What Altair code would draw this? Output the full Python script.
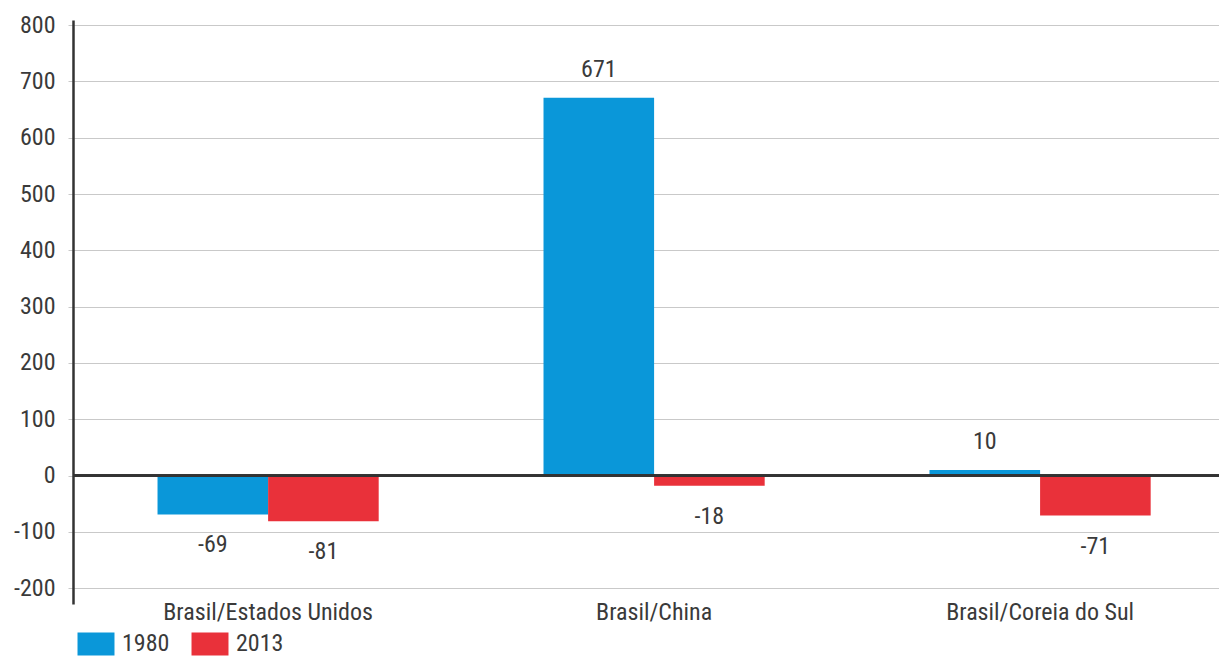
import altair as alt
import pandas as pd

# Trade balance change by partner pair, 1980 vs 2013
pairs = ["Brasil/Estados Unidos", "Brasil/China", "Brasil/Coreia do Sul"]
years = ["1980", "2013"]
values_1980 = [-69, 671, 10]
values_2013 = [-81, -18, -71]
y_ticks = [-200, -100, 0, 100, 200, 300, 400, 500, 600, 700, 800]
year_colors = ["#0a97d9", "#e9313a"]

rows = []
for par, v80, v13 in zip(pairs, values_1980, values_2013):
    rows.append({"par": par, "ano": years[0], "valor": v80, "rotulo": str(v80)})
    rows.append({"par": par, "ano": years[1], "valor": v13, "rotulo": str(v13)})
df = pd.DataFrame(rows)

FONT = "Roboto Condensed, DejaVu Sans Condensed, sans-serif"
FS = 24
TEXT = "#3a3a3a"
GRID = "#c9c9c9"

x = alt.X(
    "par:N", sort=pairs, title=None,
    scale=alt.Scale(paddingInner=0.427, paddingOuter=0.198, align=0.553),
    axis=alt.Axis(labelAngle=0, domain=False, ticks=False, labelPadding=-4,
                  labelLimit=0, labelFontSize=FS, labelColor=TEXT, labelFont=FONT),
)
xo = alt.XOffset("ano:N", sort=years, scale=alt.Scale(paddingInner=0, paddingOuter=0))
y = alt.Y(
    "valor:Q", title=None,
    scale=alt.Scale(domain=[-228, 809], nice=False, zero=False),
    axis=alt.Axis(values=y_ticks, grid=True, gridColor=GRID, gridWidth=1,
                  domainColor="#333333", domainWidth=2.5, tickColor=GRID, tickSize=5,
                  labelExpr="'' + datum.value",
                  labelPadding=13, labelFontSize=FS, labelColor=TEXT, labelFont=FONT),
)

base = alt.Chart(df)

bars = base.mark_bar().encode(
    x=x, xOffset=xo, y=y,
    color=alt.Color(
        "ano:N", sort=years,
        scale=alt.Scale(domain=years, range=year_colors),
        legend=alt.Legend(
            title=None, orient="none", direction="horizontal",
            legendX=11, legendY=612,
            symbolType="M-1.6,-1L1.6,-1L1.6,1L-1.6,1Z", symbolSize=534,
            symbolStrokeWidth=0, symbolOpacity=1,
            labelFontSize=FS, labelFont=FONT, labelColor=TEXT,
            labelOffset=14, columnPadding=21,
        ),
    ),
)

zero_line = alt.Chart(df).mark_rule(color="#333333", strokeWidth=2).encode(y=alt.datum(0))

labels_pos = base.transform_filter(alt.datum.valor >= 0).mark_text(
    baseline="bottom", dy=-16, fontSize=FS, font=FONT, color=TEXT
).encode(x=x, xOffset=xo, y=y, text="rotulo:N")

labels_neg = base.transform_filter(alt.datum.valor < 0).mark_text(
    baseline="top", dy=19, fontSize=FS, font=FONT, color=TEXT
).encode(x=x, xOffset=xo, y=y, text="rotulo:N")

chart = (
    alt.layer(bars, zero_line, labels_pos, labels_neg)
    .properties(
        width=1146, height=584,
        autosize=alt.AutoSizeParams(type="none"),
        padding={"left": 73, "top": 20, "right": 0, "bottom": 53},
        background="white",
    )
    .configure_view(stroke=None)
)

chart.save("out.html", embed_options={"renderer": "svg", "actions": False})
